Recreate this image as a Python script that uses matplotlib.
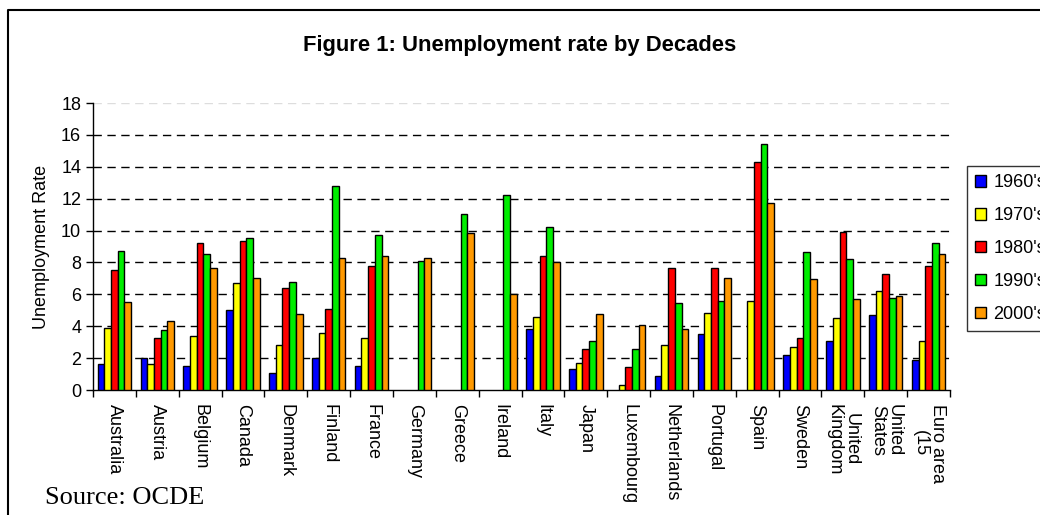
import matplotlib
matplotlib.use("Agg")
import matplotlib.pyplot as plt
from matplotlib.lines import Line2D
import numpy as np

countries = ["Australia", "Austria", "Belgium", "Canada", "Denmark", "Finland",
             "France", "Germany", "Greece", "Ireland", "Italy", "Japan",
             "Luxembourg", "Netherlands", "Portugal", "Spain", "Sweden",
             "United\nKingdom", "United\nStates", "Euro area\n(15"]
decades = ["1960's", "1970's", "1980's", "1990's", "2000's"]

nan = np.nan
rate_1960s = [1.6, 2.0, 1.5, 5.0, 1.05, 2.0, 1.5, nan, nan, nan,
              3.8, 1.3, nan, 0.85, 3.5, nan, 2.2, 3.05, 4.7, 1.9]
rate_1970s = [3.9, 1.6, 3.4, 6.7, 2.8, 3.6, 3.25, nan, nan, nan,
              4.6, 1.7, 0.3, 2.8, 4.85, 5.6, 2.7, 4.5, 6.2, 3.05]
rate_1980s = [7.5, 3.25, 9.25, 9.35, 6.4, 5.05, 7.8, nan, nan, nan,
              8.4, 2.55, 1.45, 7.65, 7.65, 14.3, 3.25, 9.9, 7.25, 7.8]
rate_1990s = [8.7, 3.75, 8.5, 9.55, 6.8, 12.8, 9.75, 8.1, 11.05, 12.2,
              10.2, 3.05, 2.55, 5.45, 5.6, 15.4, 8.65, 8.2, 5.75, 9.25]
rate_2000s = [5.5, 4.3, 7.65, 7.05, 4.75, 8.3, 8.4, 8.3, 9.85, 6.0,
              8.0, 4.75, 4.1, 3.8, 7.05, 11.7, 6.95, 5.7, 5.9, 8.5]

series = [rate_1960s, rate_1970s, rate_1980s, rate_1990s, rate_2000s]
colors = ["#0000FF", "#FFFF00", "#FF0000", "#00EE00", "#FF9900"]

plt.rcParams["font.family"] = ["Liberation Sans", "DejaVu Sans"]

fig = plt.figure(figsize=(10.4, 5.15), dpi=100)
ax = fig.add_axes([0.0894, 0.2427, 0.8241, 0.5573])

x = np.arange(len(countries))
bar_w = 0.156
for i, (vals, col, lab) in enumerate(zip(series, colors, decades)):
    ax.bar(x + (i - 2) * bar_w, vals, width=bar_w, color=col,
           edgecolor="black", linewidth=1.0, label=lab, zorder=3)

ax.set_xlim(-0.5, len(countries) - 0.5)
ax.set_ylim(0, 18)
ax.set_yticks(range(0, 19, 2))
ax.tick_params(axis="y", labelsize=13, direction="out", length=5, width=1)

ax.set_xticks(x)
ax.set_xticklabels(countries, rotation=-90, fontsize=13,
                   multialignment="center", va="top", ha="center",
                   linespacing=1.0)
ax.set_xticks(np.arange(-0.5, len(countries), 1), minor=True)
ax.tick_params(axis="x", which="major", length=0, pad=10)
ax.tick_params(axis="x", which="minor", length=5, width=1, direction="out")

for g in range(2, 17, 2):
    ax.axhline(g, color="black", linestyle=(0, (6, 4)), linewidth=1.0, zorder=1)
ax.axhline(18, color="#dddddd", linestyle=(0, (6, 4)), linewidth=1.0, zorder=1)

ax.spines["top"].set_visible(False)
ax.spines["right"].set_visible(False)
ax.spines["left"].set_linewidth(1.0)
ax.spines["bottom"].set_linewidth(1.0)

ax.set_ylabel("Unemployment Rate", fontsize=13, labelpad=8)

leg = ax.legend(loc="upper left", bbox_to_anchor=(1.02, 0.78), fontsize=13,
                frameon=True, fancybox=False, edgecolor="black",
                borderaxespad=0, handlelength=0.6, handleheight=0.6,
                handletextpad=0.4, labelspacing=0.88, borderpad=0.45)
leg.get_frame().set_linewidth(1.0)

fig.text(0.5, 0.912, "Figure 1: Unemployment rate by Decades", ha="center",
         va="center", fontsize=15.8, fontweight="bold")
fig.text(0.043, 0.033, "Source: OCDE", ha="left", va="center", fontsize=19,
         family=["Liberation Serif", "DejaVu Serif"])

fig.add_artist(Line2D([0.0077, 0.0077, 1.0], [0.0, 0.9806, 0.9806],
                      transform=fig.transFigure, color="black", linewidth=1.5))

fig.savefig("out.png", dpi=100)
